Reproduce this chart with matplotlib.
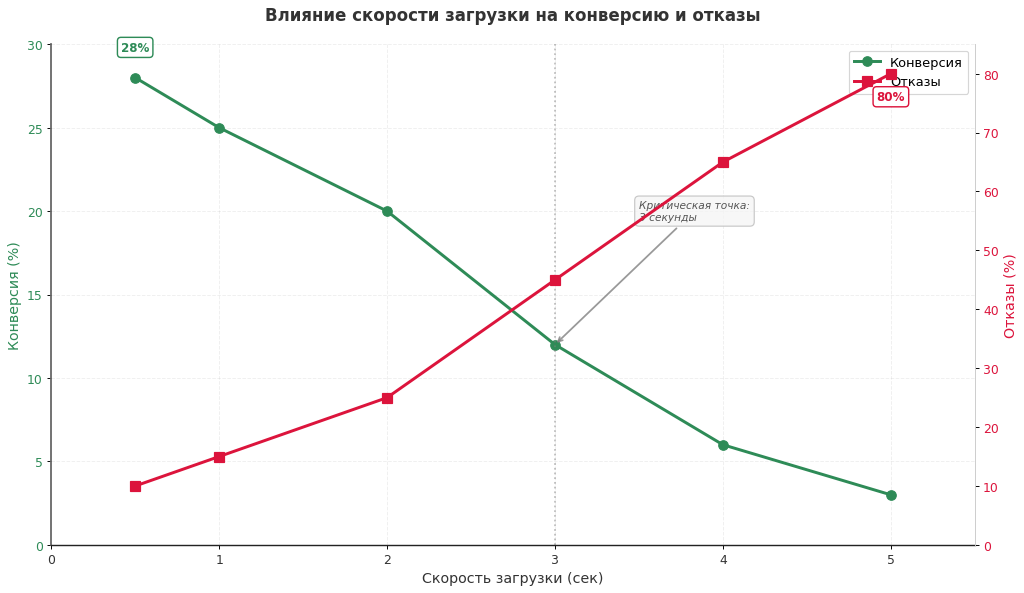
import matplotlib.pyplot as plt

# Данные
skorost = [0.5, 1, 2, 3, 4, 5]
konversiya = [28, 25, 20, 12, 6, 3]
otkazy = [10, 15, 25, 45, 65, 80]

zeleny = '#2E8B57'
krasny = '#DC143C'

fig, ax1 = plt.subplots(figsize=(12, 6.96), dpi=1024 / 12)
fig.subplots_adjust(left=0.05, right=0.952, bottom=0.081, top=0.924)

l1, = ax1.plot(skorost, konversiya, color=zeleny, marker='o', linewidth=2.5,
               markersize=8, label='Конверсия')
ax1.set_xlim(0, 5.5)
ax1.set_ylim(0, 30)
ax1.set_xlabel('Скорость загрузки (сек)', fontsize=12, color='#333333')
ax1.set_ylabel('Конверсия (%)', fontsize=12, color=zeleny)
ax1.tick_params(axis='y', labelcolor=zeleny, labelsize=10.5)
ax1.tick_params(axis='x', labelcolor='#333333', labelsize=10.5)
ax1.grid(True, linestyle='--', alpha=0.2)
ax1.spines['top'].set_visible(False)
ax1.spines['right'].set_visible(False)
ax1.spines['left'].set_color('#666666')
ax1.spines['left'].set_linewidth(1.5)
ax1.spines['bottom'].set_color('#222222')
ax1.spines['bottom'].set_linewidth(1.2)

ax1.axvline(3, color='gray', linestyle=':', alpha=0.5, linewidth=1.5)

ax2 = ax1.twinx()
l2, = ax2.plot(skorost, otkazy, color=krasny, marker='s', linewidth=2.5,
               markersize=8, label='Отказы')
ax2.set_ylim(0, 85)
ax2.set_ylabel('Отказы (%)', fontsize=12, color=krasny)
ax2.tick_params(axis='y', labelcolor=krasny, labelsize=10.5)
ax2.spines['top'].set_visible(False)
ax2.spines['left'].set_visible(False)
ax2.spines['bottom'].set_visible(False)
ax2.spines['right'].set_color('#cccccc')

# Подписи крайних значений
ax1.annotate(f'{konversiya[0]}%', xy=(skorost[0], konversiya[0]), xytext=(0, 20),
             textcoords='offset points', ha='center', va='bottom', fontsize=10,
             fontweight='bold', color=zeleny,
             bbox=dict(boxstyle='round,pad=0.3', fc='white', ec=zeleny, lw=1.2))
ax2.annotate(f'{otkazy[-1]}%', xy=(skorost[-1], otkazy[-1]), xytext=(0, -14),
             textcoords='offset points', ha='center', va='top', fontsize=10,
             fontweight='bold', color=krasny,
             bbox=dict(boxstyle='round,pad=0.3', fc='white', ec=krasny, lw=1.2))

ax1.annotate('Критическая точка:\n3 секунды', xy=(3, 12), xytext=(3.5, 20),
             fontsize=9, style='italic', color='#555555', va='center',
             bbox=dict(boxstyle='round,pad=0.4', fc='#f5f5f5', ec='#bbbbbb', alpha=0.8),
             arrowprops=dict(arrowstyle='->', color='gray', lw=1.5, alpha=0.8))

ax1.legend(handles=[l1, l2], loc='upper right', fontsize=11)

ax1.set_title('Влияние скорости загрузки на конверсию и отказы', fontsize=14,
              fontweight='bold', color='#333333', pad=20)

plt.savefig('out.png', dpi=1024 / 12)
